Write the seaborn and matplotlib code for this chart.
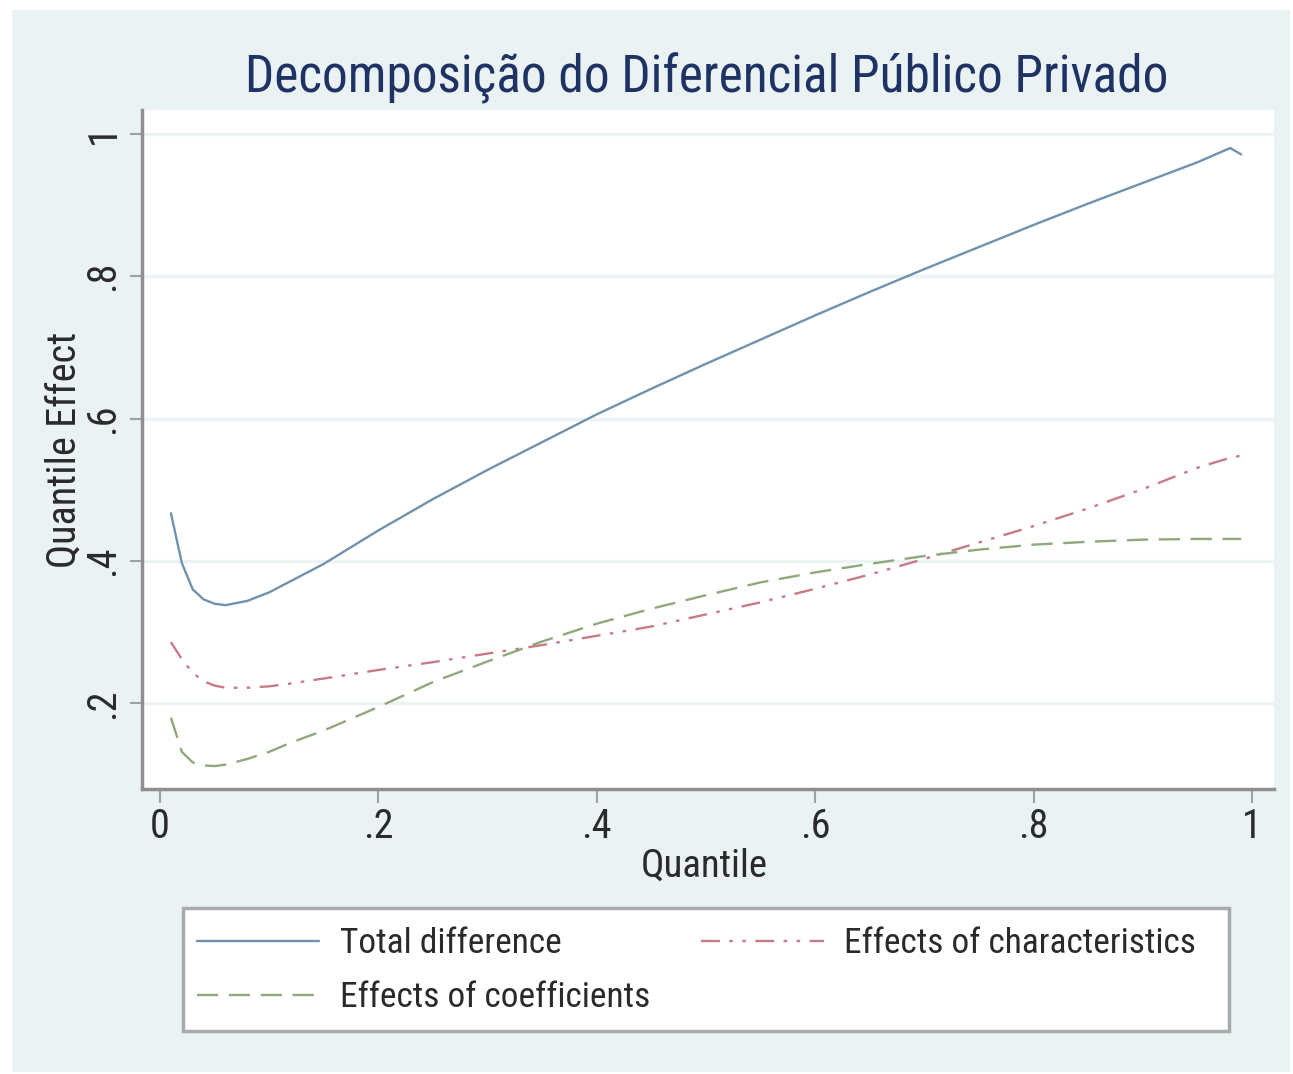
import matplotlib
matplotlib.use("Agg")
import matplotlib.pyplot as plt
from matplotlib.patches import Rectangle
import pandas as pd
import seaborn as sns

# Quantile grid and estimated effects for each component
quantile = [0.01, 0.02, 0.03, 0.04, 0.05, 0.06, 0.08, 0.10, 0.12, 0.15,
            0.20, 0.25, 0.30, 0.35, 0.40, 0.45, 0.50, 0.55, 0.60, 0.65,
            0.70, 0.75, 0.80, 0.85, 0.90, 0.95, 0.98, 0.99]

total_difference = [0.467, 0.397, 0.360, 0.346, 0.340, 0.338, 0.344, 0.356, 0.372, 0.396,
                    0.443, 0.487, 0.528, 0.567, 0.606, 0.642, 0.677, 0.711, 0.745, 0.778,
                    0.810, 0.841, 0.872, 0.902, 0.931, 0.960, 0.980, 0.971]

effects_characteristics = [0.286, 0.262, 0.243, 0.231, 0.225, 0.222, 0.222, 0.224, 0.228, 0.235,
                           0.247, 0.258, 0.270, 0.282, 0.295, 0.308, 0.325, 0.342, 0.361, 0.381,
                           0.403, 0.426, 0.449, 0.474, 0.501, 0.531, 0.545, 0.548]

effects_coefficients = [0.180, 0.132, 0.117, 0.113, 0.112, 0.114, 0.122, 0.132, 0.145, 0.162,
                        0.195, 0.230, 0.259, 0.287, 0.312, 0.333, 0.352, 0.370, 0.384, 0.396,
                        0.407, 0.416, 0.423, 0.427, 0.430, 0.431, 0.431, 0.431]

series_names = ["Total difference", "Effects of characteristics", "Effects of coefficients"]
x_ticks = [0, 0.2, 0.4, 0.6, 0.8, 1.0]
x_tick_labels = ["0", ".2", ".4", ".6", ".8", "1"]
y_ticks = [0.2, 0.4, 0.6, 0.8, 1.0]
y_tick_labels = [".2", ".4", ".6", ".8", "1"]
title_text = "Decomposição do Diferencial Público Privado"

df = pd.concat([
    pd.DataFrame({"Quantile": quantile, "Effect": vals, "Series": name})
    for name, vals in zip(series_names,
                          [total_difference, effects_characteristics, effects_coefficients])
], ignore_index=True)

sns.set_theme(style="white")
plt.rcParams["font.family"] = ["Liberation Sans Narrow", "Roboto Condensed", "Archivo Narrow",
                               "PT Sans Narrow", "Liberation Sans", "DejaVu Sans"]

W, H = 1293, 1074
fig = plt.figure(figsize=(W / 100, H / 100), dpi=100, facecolor="white")

# light graph-region background
fig.patches.append(Rectangle((12 / W, 1 - 1072 / H), (1290 - 12) / W, (1072 - 10) / H,
                             transform=fig.transFigure, facecolor="#eaf2f3",
                             edgecolor="none", zorder=-5))

ax = fig.add_axes([142 / W, 1 - 789 / H, (1274 - 142) / W, (789 - 110) / H])
ax.set_facecolor("white")

palette = {"Total difference": "#7092ad",
           "Effects of characteristics": "#c67b87",
           "Effects of coefficients": "#8fa97c"}
dashes = {"Total difference": "",
          "Effects of characteristics": (8, 4, 1.5, 4, 1.5, 4),
          "Effects of coefficients": (9, 4.5)}

sns.lineplot(data=df, x="Quantile", y="Effect", hue="Series", style="Series",
             palette=palette, dashes=dashes, hue_order=series_names,
             style_order=series_names, linewidth=1.7, ax=ax, legend="full")

handles, labels = ax.get_legend_handles_labels()
ax.get_legend().remove()

ax.set_xlim(-0.0165, 1.0201)
ax.set_ylim(0.0798, 1.0334)

ax.set_xticks(x_ticks)
ax.set_xticklabels(x_tick_labels)
ax.set_yticks(y_ticks)
ax.set_yticklabels(y_tick_labels, rotation=90, va="center")

ax.tick_params(axis="x", direction="out", length=10, width=1.5, color="#a0a0a0",
               labelsize=29, labelcolor="#2a2a2a", pad=3, bottom=True)
ax.tick_params(axis="y", direction="out", length=9, width=1.5, color="#a0a0a0",
               labelsize=29, labelcolor="#2a2a2a", pad=5, left=True)

ax.yaxis.grid(True, color="#edf2f4", linewidth=2.5)
ax.xaxis.grid(False)
ax.set_axisbelow(True)

for side in ["top", "right"]:
    ax.spines[side].set_visible(False)
for side in ["left", "bottom"]:
    ax.spines[side].set_color("#8f8f8f")
    ax.spines[side].set_linewidth(2.5)

ax.set_xlabel("Quantile", fontsize=28, color="#2a2a2a")
ax.set_ylabel("Quantile Effect", fontsize=29, color="#2a2a2a")
ax.xaxis.set_label_coords(0.497, -0.087)
ax.yaxis.set_label_coords(-0.052, 0.5)

fig.text(707 / W, 1 - 93 / H, title_text, ha="center", va="baseline",
         fontsize=37, color="#1e3264")

# legend frame and entries
fig.patches.append(Rectangle((183 / W, 1 - 1031 / H), (1229 - 183) / W, (1031 - 908) / H,
                             transform=fig.transFigure, facecolor="white",
                             edgecolor="#a7abad", linewidth=2.5, zorder=1))
order = [0, 2, 1]
leg = fig.legend([handles[i] for i in order], [labels[i] for i in order],
                 loc="upper left", bbox_to_anchor=(197 / W, 1 - 927 / H),
                 ncol=2, frameon=False, borderpad=0, borderaxespad=0,
                 handlelength=3.45, handletextpad=0.58, columnspacing=1.45,
                 labelspacing=0.6, fontsize=25.5)
for t in leg.get_texts():
    t.set_color("#2a2a2a")

fig.savefig("out.png", dpi=100, facecolor="white")
